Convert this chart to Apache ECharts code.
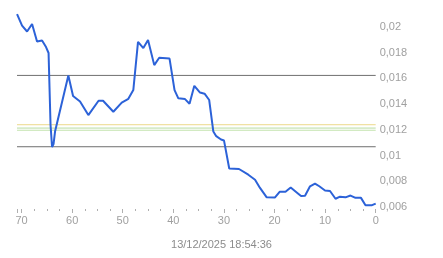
<!DOCTYPE html>
<html><head><meta charset="utf-8">
<script src="https://cdn.jsdelivr.net/npm/echarts@6/dist/echarts.min.js"></script>
<style>html,body{margin:0;padding:0;background:#fff}#c{width:443px;height:258px}</style>
</head><body><div id="c"></div>
<script>
// minutes ago (x) and value (y)
const agoMinutes = [70.89,69.90,68.91,67.92,66.94,65.95,65.16,64.66,64.27,63.97,63.68,63.38,60.75,59.82,58.44,56.80,54.78,53.89,51.86,50.20,48.89,47.91,46.98,45.93,45.00,43.77,42.79,40.75,39.76,39.01,37.69,36.80,35.85,34.72,33.83,32.91,32.09,31.52,30.57,29.98,28.95,27.02,25.18,23.85,22.87,21.54,19.90,18.99,17.83,16.80,15.55,14.76,13.97,12.98,12.00,11.15,10.02,9.03,7.94,7.06,5.97,4.98,3.99,2.91,2.02,0.73,0];
const values = [0.02098,0.02009,0.01963,0.02021,0.01885,0.01893,0.01842,0.01796,0.01237,0.01066,0.01089,0.01186,0.01621,0.01462,0.01419,0.01314,0.01425,0.01425,0.01340,0.01411,0.01440,0.01508,0.01883,0.01834,0.01897,0.01702,0.01759,0.01753,0.01508,0.01444,0.01438,0.01402,0.01541,0.01489,0.01480,0.01431,0.01186,0.01150,0.01124,0.01116,0.00899,0.00895,0.00851,0.00812,0.00748,0.00675,0.00674,0.00718,0.00718,0.00751,0.00711,0.00685,0.00688,0.00761,0.00782,0.00761,0.00728,0.00724,0.00664,0.00680,0.00675,0.00689,0.00671,0.00671,0.00614,0.00614,0.00626];
const levelValues = [0.01622, 0.01068, 0.01239, 0.01213, 0.01196];
const levelColors = ['#6f6f6f', '#6f6f6f', '#ecd98a', '#b9dca2', '#c3e3ae'];
const xRange = [0, 70.9];
const timestampLabel = '13/12/2025 18:54:36';

const chart = echarts.init(document.getElementById('c'), null, {renderer:'canvas'});
const lineData = agoMinutes.map((t,i)=>[t, values[i]]);
const fmt = v => String(+v.toFixed(4)).replace('.', ',');
const levelSeries = levelValues.map((lv,i)=>({
  type:'line', data:[[xRange[0],lv],[xRange[1],lv]], z:1, silent:true,
  showSymbol:false, symbol:'none', lineStyle:{color:levelColors[i],width:1}
}));
chart.setOption({
  animation:false,
  backgroundColor:'#fff',
  title:{text:timestampLabel,left:'center',top:234,textStyle:{fontFamily:'Liberation Sans, Arial',fontSize:11,fontWeight:'normal',color:'#8c8c8c'}},
  grid:{left:17,right:67.3,top:1,bottom:51},
  xAxis:{type:'value',inverse:true,min:xRange[0],max:xRange[1],interval:10,offset:2,
    axisLine:{show:false},
    axisTick:{show:true,length:4,lineStyle:{color:'#b0b0b0'}},
    minorTick:{show:true,splitNumber:4,length:2,lineStyle:{color:'#b0b0b0'}},
    splitLine:{show:false},
    axisLabel:{showMaxLabel:false,margin:6,fontFamily:'Liberation Sans, Arial',fontSize:11,color:'#a0a0a0'}},
  yAxis:{type:'value',position:'right',min:0.006,max:0.022,interval:0.002,
    axisLine:{show:false},axisTick:{show:false},splitLine:{show:false},
    axisLabel:{showMaxLabel:false,margin:4,fontFamily:'Liberation Sans, Arial',fontSize:11,color:'#a0a0a0',formatter:fmt}},
  series:levelSeries.concat([
    {type:'line',data:lineData,z:3,showSymbol:false,symbol:'none',
     lineStyle:{color:'#2c62d8',width:2},clip:true}
  ])
});
</script></body></html>
